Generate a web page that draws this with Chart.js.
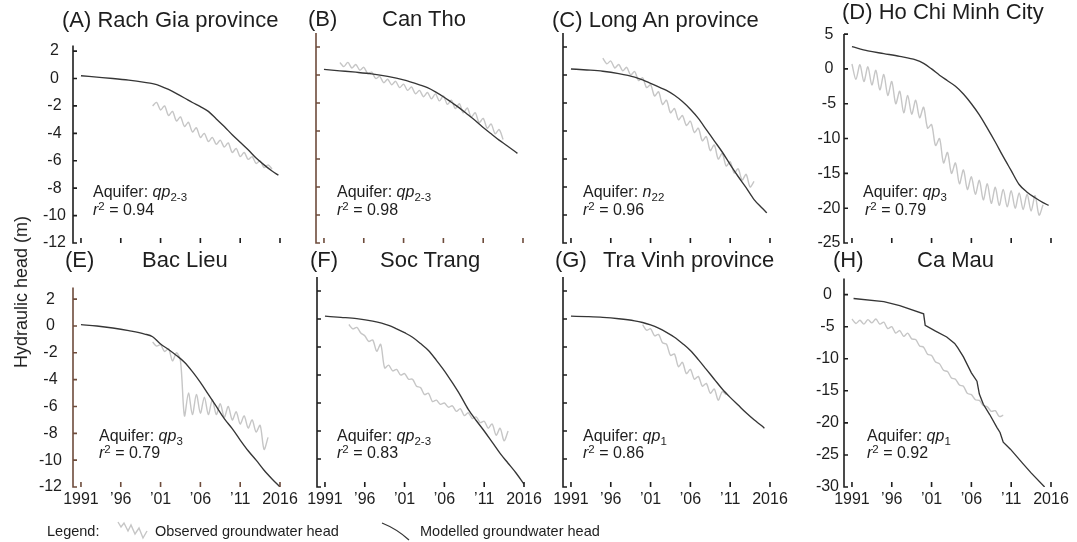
<!DOCTYPE html>
<html>
<head>
<meta charset="utf-8">
<script src="https://cdn.jsdelivr.net/npm/chart.js@4.4.1/dist/chart.umd.min.js"></script>
<style>
html, body { margin: 0; padding: 0; background: #fff; }
#fig { position: relative; width: 1077px; height: 542px; overflow: hidden; background: #fff;
       font-family: "Liberation Sans", Arial, Helvetica, sans-serif; color: #1e1e1e; }
#fig canvas { position: absolute; }
.txt { position: absolute; white-space: nowrap; }
.txt sub, .txt sup { font-size: 0.72em; line-height: 0; position: relative; vertical-align: baseline; }
.txt sub { top: 0.32em; }
.txt sup { top: -0.45em; }
</style>
</head>
<body>
<div id="fig"></div>
<script>
// ---- axis ticks ----
const yearTicks = [1991, 1996, 2001, 2006, 2011, 2016];
const yearTickLabels = ['1991', '\u201996', '\u201901', '\u201906', '\u201911', '2016'];
const headTicksDelta = [-12, -10, -8, -6, -4, -2, 0, 2];
const headTicksHcmc = [-25, -20, -15, -10, -5, 0, 5];
const headTicksCaMau = [-30, -25, -20, -15, -10, -5, 0];

// Observed heads are recorded every half year from the first year given
const obsStep = 0.5;

// (A) Rach Gia province
const modelYearsA = [1991, 1993, 1995, 1997, 1999, 2000, 2001, 2002, 2003, 2004, 2005, 2006, 2007, 2008, 2009, 2010, 2011, 2012, 2013, 2014, 2015, 2015.8];
const modelHeadA = [0.2, 0.1, 0.0, -0.12, -0.28, -0.38, -0.55, -0.8, -1.1, -1.42, -1.75, -2.05, -2.4, -2.95, -3.5, -4.1, -4.65, -5.2, -5.8, -6.3, -6.75, -7.05];
const obsStartA = 2000;
const obsHeadA = [-2.0, -1.75, -2.3, -2.0, -2.7, -2.4, -3.1, -2.8, -3.5, -3.2, -3.9, -3.6, -4.3, -4.0, -4.6, -4.3, -4.8, -4.5, -5.0, -4.7, -5.4, -5.1, -5.7, -5.4, -5.9, -5.7, -6.2, -6.0, -6.5, -6.3, -6.6];

// (B) Can Tho
const modelYearsB = [1991, 1993, 1995, 1997, 1999, 2001, 2003, 2004, 2005, 2006, 2007, 2008, 2009, 2010, 2011, 2012, 2013, 2014, 2015.3];
const modelHeadB = [0.4, 0.3, 0.2, 0.08, -0.1, -0.35, -0.7, -0.9, -1.2, -1.55, -1.95, -2.35, -2.8, -3.25, -3.75, -4.2, -4.65, -5.05, -5.6];
const obsStartB = 1993;
const obsHeadB = [0.9, 0.6, 0.9, 0.5, 0.75, 0.35, 0.55, 0.1, 0.2, -0.25, -0.1, -0.55, -0.3, -0.7, -0.45, -0.9, -0.65, -1.1, -0.85, -1.35, -1.1, -1.55, -1.25, -1.7, -1.35, -1.85, -1.5, -2.1, -1.8, -2.4, -2.05, -2.7, -2.35, -3.0, -2.7, -3.4, -3.1, -3.8, -3.5, -4.2, -3.9, -4.6];

// (C) Long An province
const modelYearsC = [1991, 1993, 1995, 1997, 1999, 2000, 2001, 2002, 2003, 2004, 2005, 2006, 2007, 2008, 2009, 2010, 2011, 2012, 2013, 2014, 2015, 2015.6];
const modelHeadC = [0.43, 0.36, 0.27, 0.1, -0.15, -0.35, -0.6, -0.85, -1.1, -1.45, -1.9, -2.45, -3.1, -3.9, -4.7, -5.5, -6.4, -7.25, -8.05, -8.9, -9.5, -9.85];
const obsStartC = 1995;
const obsHeadC = [1.2, 0.8, 1.0, 0.5, 0.75, 0.3, 0.55, 0.0, 0.25, -0.4, -0.2, -0.9, -0.7, -1.5, -1.2, -2.1, -1.8, -2.7, -2.4, -3.2, -2.9, -3.6, -3.3, -4.1, -3.8, -4.7, -4.4, -5.4, -5.0, -6.0, -5.6, -6.5, -6.2, -7.0, -6.7, -7.5, -7.1, -8.0, -7.6];

// (D) Ho Chi Minh City
const modelYearsD = [1991, 1993, 1995, 1997, 1999, 2000, 2001, 2002, 2003, 2004, 2005, 2006, 2007, 2008, 2009, 2010, 2011, 2012, 2013, 2014, 2015, 2015.7];
const modelHeadD = [3.2, 2.6, 2.2, 1.8, 1.3, 0.8, 0.0, -0.9, -1.7, -2.5, -3.6, -5.0, -6.6, -8.5, -10.5, -12.6, -14.6, -16.6, -17.7, -18.5, -19.2, -19.6];
const obsStartD = 1991;
const obsHeadD = [0.7, -1.5, 0.6, -1.8, 0.3, -2.3, -0.2, -3.0, -0.8, -3.8, -1.8, -5.0, -3.2, -6.3, -3.8, -6.5, -4.5, -7.0, -5.5, -8.5, -8.0, -11.0, -10.0, -13.5, -12.0, -15.0, -13.5, -16.5, -14.5, -17.3, -15.5, -18.0, -16.0, -18.8, -16.5, -19.3, -17.0, -19.6, -17.3, -19.8, -17.5, -20.0, -17.8, -20.2, -18.0, -20.4, -18.2, -21.0, -19.5];

// (E) Bac Lieu
const modelYearsE = [1991, 1993, 1995, 1997, 1999, 2000, 2001, 2002, 2003, 2004, 2005, 2006, 2007, 2008, 2009, 2010, 2011, 2012, 2013, 2014, 2015, 2016];
const modelHeadE = [0.1, 0.0, -0.15, -0.35, -0.6, -0.8, -1.35, -1.75, -2.2, -2.7, -3.4, -4.2, -5.1, -6.0, -6.9, -7.65, -8.5, -9.3, -10.0, -10.75, -11.4, -12.0];
const obsStartE = 2000;
const obsHeadE = [-1.2, -1.5, -1.4, -1.9, -1.7, -2.6, -2.0, -2.6, -6.7, -5.0, -6.6, -5.1, -6.5, -5.3, -6.6, -5.5, -6.6, -5.8, -6.8, -6.0, -7.0, -6.4, -7.3, -6.7, -7.6, -7.0, -7.9, -7.4, -9.2, -8.3];

// (F) Soc Trang
const modelYearsF = [1991, 1993, 1995, 1997, 1999, 2000, 2001, 2002, 2003, 2004, 2005, 2006, 2007, 2008, 2009, 2010, 2011, 2012, 2013, 2014, 2015, 2016];
const modelHeadF = [0.2, 0.12, 0.03, -0.15, -0.45, -0.7, -0.98, -1.3, -1.75, -2.25, -2.95, -3.7, -4.55, -5.45, -6.45, -7.25, -8.0, -8.8, -9.6, -10.3, -11.0, -11.8];
const obsStartF = 1994;
const obsHeadF = [-0.4, -0.7, -0.6, -1.0, -1.2, -1.6, -1.5, -2.3, -1.8, -3.5, -3.3, -3.7, -3.6, -4.0, -3.9, -4.3, -4.3, -4.8, -4.9, -5.4, -5.3, -5.9, -5.8, -6.1, -6.0, -6.3, -6.2, -6.6, -6.4, -6.9, -6.7, -7.1, -7.0, -7.4, -7.3, -7.8, -7.5, -8.3, -7.8, -8.7, -8.0];

// (G) Tra Vinh province
const modelYearsG = [1991, 1993, 1995, 1997, 1999, 2000, 2001, 2002, 2003, 2004, 2005, 2006, 2007, 2008, 2009, 2010, 2011, 2012, 2013, 2014, 2015, 2015.3];
const modelHeadG = [0.2, 0.17, 0.12, 0.02, -0.13, -0.25, -0.42, -0.65, -0.95, -1.3, -1.75, -2.25, -2.9, -3.6, -4.3, -5.0, -5.6, -6.15, -6.7, -7.2, -7.65, -7.8];
const obsStartG = 2000;
const obsHeadG = [-0.4, -0.8, -0.7, -1.2, -1.1, -1.7, -1.8, -2.6, -2.5, -3.4, -3.1, -3.9, -3.6, -4.3, -4.1, -4.8, -4.6, -5.3, -5.0, -5.8, -5.2, -5.4];

// (H) Ca Mau
const modelYearsH = [1991.2, 1995, 1997, 2000, 2000.2, 2001.5, 2002.9, 2003.9, 2004.3, 2005, 2006, 2006.7, 2007, 2007.5, 2008.3, 2009.2, 2009.6, 2010, 2010.9, 2012.5, 2013.5, 2015.2];
const modelHeadH = [-0.6, -1.1, -1.7, -3.0, -4.8, -5.7, -6.6, -7.6, -8.3, -9.7, -12.2, -13.5, -15.5, -17.1, -18.7, -20.7, -21.5, -23.0, -24.1, -26.4, -27.8, -30.0];
const obsStartH = 1991;
const obsHeadH = [-3.8, -4.5, -4.0, -4.6, -3.9, -4.4, -3.8, -4.6, -4.3, -5.3, -5.0, -6.0, -5.6, -6.5, -6.0, -6.9, -7.0, -8.0, -8.2, -9.3, -9.5, -10.5, -10.8, -11.8, -12.0, -13.0, -13.2, -14.1, -14.3, -15.4, -15.6, -16.4, -16.5, -17.3, -17.5, -18.2, -18.1, -19.0, -18.8];

// ---- panel layout: plot area [left, top, right, bottom] in page pixels ----
const AXIS = '#1e1e1e', AXIS_BROWN = '#6e4c3c';
const panels = [
  { area: [73, 41, 280, 243], yMin: -12, yMax: 2.4, yTicks: headTicksDelta, showY: true, yPad: 7, showX: false, axis: AXIS,
    modelYears: modelYearsA, modelHead: modelHeadA, obsStart: obsStartA, obsHead: obsHeadA, smooth: true },
  { area: [316, 33, 523, 243], yMin: -12, yMax: 3.0, yTicks: headTicksDelta, showY: false, yPad: 7, showX: false, axis: AXIS_BROWN,
    modelYears: modelYearsB, modelHead: modelHeadB, obsStart: obsStartB, obsHead: obsHeadB, smooth: true },
  { area: [563, 33, 770, 243], yMin: -12, yMax: 3.0, yTicks: headTicksDelta, showY: false, yPad: 7, showX: false, axis: AXIS,
    modelYears: modelYearsC, modelHead: modelHeadC, obsStart: obsStartC, obsHead: obsHeadC, smooth: true },
  { area: [844, 33, 1051, 243], yMin: -25, yMax: 5, yTicks: headTicksHcmc, showY: true, yPad: 3.5, showX: false, axis: AXIS,
    modelYears: modelYearsD, modelHead: modelHeadD, obsStart: obsStartD, obsHead: obsHeadD, smooth: true },
  { area: [73, 279, 280, 487], yMin: -12, yMax: 2.86, yTicks: headTicksDelta, showY: true, yPad: 11, showX: true, axis: AXIS_BROWN,
    modelYears: modelYearsE, modelHead: modelHeadE, obsStart: obsStartE, obsHead: obsHeadE, smooth: true },
  { area: [317, 277, 524, 487], yMin: -12, yMax: 3.0, yTicks: headTicksDelta, showY: false, yPad: 7, showX: true, axis: AXIS,
    modelYears: modelYearsF, modelHead: modelHeadF, obsStart: obsStartF, obsHead: obsHeadF, smooth: true },
  { area: [563, 277, 770, 487], yMin: -12, yMax: 3.0, yTicks: headTicksDelta, showY: false, yPad: 7, showX: true, axis: AXIS,
    modelYears: modelYearsG, modelHead: modelHeadG, obsStart: obsStartG, obsHead: obsHeadG, smooth: true },
  { area: [844, 276, 1051, 487], yMin: -30, yMax: 2.5, yTicks: headTicksCaMau, showY: true, yPad: 5, showX: true, axis: AXIS,
    modelYears: modelYearsH, modelHead: modelHeadH, obsStart: obsStartH, obsHead: obsHeadH, smooth: false }
];

const titles = [
  { x: 62, base: 28, text: '(A) Rach Gia province' },
  { x: 308, base: 27, text: '(B)' }, { x: 382, base: 27, text: 'Can Tho' },
  { x: 552, base: 28, text: '(C) Long An province' },
  { x: 842, base: 20, text: '(D) Ho Chi Minh City' },
  { x: 65, base: 268, text: '(E)' }, { x: 142, base: 268, text: 'Bac Lieu' },
  { x: 310, base: 268, text: '(F)' }, { x: 380, base: 268, text: 'Soc Trang' },
  { x: 555, base: 268, text: '(G)' }, { x: 603, base: 268, text: 'Tra Vinh province' },
  { x: 833, base: 268, text: '(H)' }, { x: 917, base: 268, text: 'Ca Mau' }
];

const notes = [
  { x: 93, base: 198, html: 'Aquifer: <i>qp</i><sub>2-3</sub>' }, { x: 93, base: 216, html: '<i>r</i><sup>2</sup> = 0.94' },
  { x: 337, base: 198, html: 'Aquifer: <i>qp</i><sub>2-3</sub>' }, { x: 337, base: 216, html: '<i>r</i><sup>2</sup> = 0.98' },
  { x: 583, base: 198, html: 'Aquifer: <i>n</i><sub>22</sub>' }, { x: 583, base: 216, html: '<i>r</i><sup>2</sup> = 0.96' },
  { x: 863, base: 198, html: 'Aquifer: <i>qp</i><sub>3</sub>' }, { x: 865, base: 216, html: '<i>r</i><sup>2</sup> = 0.79' },
  { x: 99, base: 442, html: 'Aquifer: <i>qp</i><sub>3</sub>' }, { x: 99, base: 459, html: '<i>r</i><sup>2</sup> = 0.79' },
  { x: 337, base: 442, html: 'Aquifer: <i>qp</i><sub>2-3</sub>' }, { x: 337, base: 459, html: '<i>r</i><sup>2</sup> = 0.83' },
  { x: 583, base: 442, html: 'Aquifer: <i>qp</i><sub>1</sub>' }, { x: 583, base: 459, html: '<i>r</i><sup>2</sup> = 0.86' },
  { x: 867, base: 442, html: 'Aquifer: <i>qp</i><sub>1</sub>' }, { x: 867, base: 459, html: '<i>r</i><sup>2</sup> = 0.92' }
];

const fig = document.getElementById('fig');
const FONT = '"Liberation Sans", Arial, Helvetica, sans-serif';
Chart.defaults.font.family = FONT;
Chart.defaults.color = '#1e1e1e';

// Place a line of text so that its baseline sits at `base`
function addText(x, base, size, html) {
  const d = document.createElement('div');
  d.className = 'txt';
  d.style.left = x + 'px';
  d.style.top = (base - 0.8465 * size) + 'px';
  d.style.fontSize = size + 'px';
  d.style.lineHeight = size + 'px';
  d.innerHTML = html;
  fig.appendChild(d);
  return d;
}

// Axis line with short inward tick marks on both axes
const axisMarks = {
  id: 'axisMarks',
  afterDraw(chart, args, opts) {
    const { ctx, chartArea: a, scales: { x, y } } = chart;
    ctx.save();
    ctx.strokeStyle = opts.color;
    ctx.lineWidth = 1.6;
    ctx.lineCap = 'butt';
    ctx.beginPath();
    ctx.moveTo(a.left, a.top);
    ctx.lineTo(a.left, a.bottom);
    ctx.lineTo(a.left + 4, a.bottom);
    y.ticks.forEach(t => {
      const py = y.getPixelForValue(t.value);
      ctx.moveTo(a.left, py);
      ctx.lineTo(a.left + 4, py);
    });
    x.ticks.forEach(t => {
      const px = x.getPixelForValue(t.value);
      ctx.moveTo(px, a.bottom);
      ctx.lineTo(px, a.bottom - 5);
    });
    ctx.stroke();
    ctx.restore();
  }
};

function buildPanel(p) {
  const [l, t, r, b] = p.area;
  const padL = 60, padT = 12, padR = 24, padB = 30;
  const w = r - l + padL + padR, h = b - t + padT + padB;
  const canvas = document.createElement('canvas');
  canvas.width = w; canvas.height = h;
  canvas.style.left = (l - padL) + 'px';
  canvas.style.top = (t - padT) + 'px';
  canvas.style.width = w + 'px';
  canvas.style.height = h + 'px';
  fig.appendChild(canvas);

  const modelled = p.modelYears.map((yr, i) => ({ x: yr, y: p.modelHead[i] }));
  const observed = p.obsHead.map((v, i) => ({ x: p.obsStart + i * obsStep, y: v }));

  const modelSet = { label: 'Modelled groundwater head', data: modelled, borderColor: '#363636', borderWidth: 1.35,
                     pointRadius: 0, fill: false };
  if (p.smooth) modelSet.cubicInterpolationMode = 'monotone'; else modelSet.tension = 0;

  new Chart(canvas, {
    type: 'line',
    data: {
      datasets: [
        modelSet,
        { label: 'Observed groundwater head', data: observed, borderColor: '#c6c6c6', borderWidth: 1.4,
          pointRadius: 0, tension: 0.3, fill: false }
      ]
    },
    options: {
      responsive: false,
      animation: false,
      devicePixelRatio: 1,
      layout: { padding: { left: 0, top: padT, right: padR, bottom: 0 } },
      plugins: { legend: { display: false }, tooltip: { enabled: false }, axisMarks: { color: p.axis } },
      scales: {
        x: {
          type: 'linear', min: 1990, max: 2016,
          afterBuildTicks: s => { s.ticks = yearTicks.map(v => ({ value: v })); },
          afterFit: s => { s.height = padB; },
          grid: { display: false, drawTicks: false },
          border: { display: false },
          ticks: { display: p.showX, autoSkip: false, maxRotation: 0, padding: 3,
                   font: { size: 16 }, color: '#1e1e1e', callback: (v, i) => yearTickLabels[i] }
        },
        y: {
          type: 'linear', min: p.yMin, max: p.yMax,
          afterBuildTicks: s => { s.ticks = p.yTicks.map(v => ({ value: v })); },
          afterFit: s => { s.width = padL; },
          grid: { display: false, drawTicks: false },
          border: { display: false },
          ticks: { display: p.showY, autoSkip: false, crossAlign: 'center', padding: p.yPad,
                   font: { size: 16 }, color: '#1e1e1e', callback: v => String(v) }
        }
      }
    },
    plugins: [axisMarks]
  });
}

panels.forEach(buildPanel);
titles.forEach(tt => addText(tt.x, tt.base, 22, tt.text));
notes.forEach(n => addText(n.x, n.base, 16, n.html));

// shared y-axis title
const yTitle = document.createElement('div');
yTitle.className = 'txt';
yTitle.textContent = 'Hydraulic head (m)';
Object.assign(yTitle.style, { left: '21px', top: '292px', fontSize: '18px', lineHeight: '18px',
  transform: 'translate(-50%, -50%) rotate(-90deg)' });
fig.appendChild(yTitle);

// legend
addText(47, 536, 14.5, 'Legend:');
addText(155, 536, 14.5, 'Observed groundwater head');
addText(420, 536, 14.5, 'Modelled groundwater head');
const svgNS = 'http://www.w3.org/2000/svg';
const svg = document.createElementNS(svgNS, 'svg');
svg.setAttribute('width', '1077'); svg.setAttribute('height', '542');
svg.style.position = 'absolute'; svg.style.left = '0'; svg.style.top = '0';
const obsIcon = document.createElementNS(svgNS, 'path');
obsIcon.setAttribute('d', 'M118 522 L121 527 L124 523 L128 531 L131 525 L135 534 L139 528 L143 538 L147 531');
obsIcon.setAttribute('fill', 'none'); obsIcon.setAttribute('stroke', '#c6c6c6'); obsIcon.setAttribute('stroke-width', '1.4');
const modIcon = document.createElementNS(svgNS, 'path');
modIcon.setAttribute('d', 'M382 523 Q397 529 409 540');
modIcon.setAttribute('fill', 'none'); modIcon.setAttribute('stroke', '#363636'); modIcon.setAttribute('stroke-width', '1.3');
svg.appendChild(obsIcon); svg.appendChild(modIcon);
fig.appendChild(svg);
</script>
</body>
</html>
